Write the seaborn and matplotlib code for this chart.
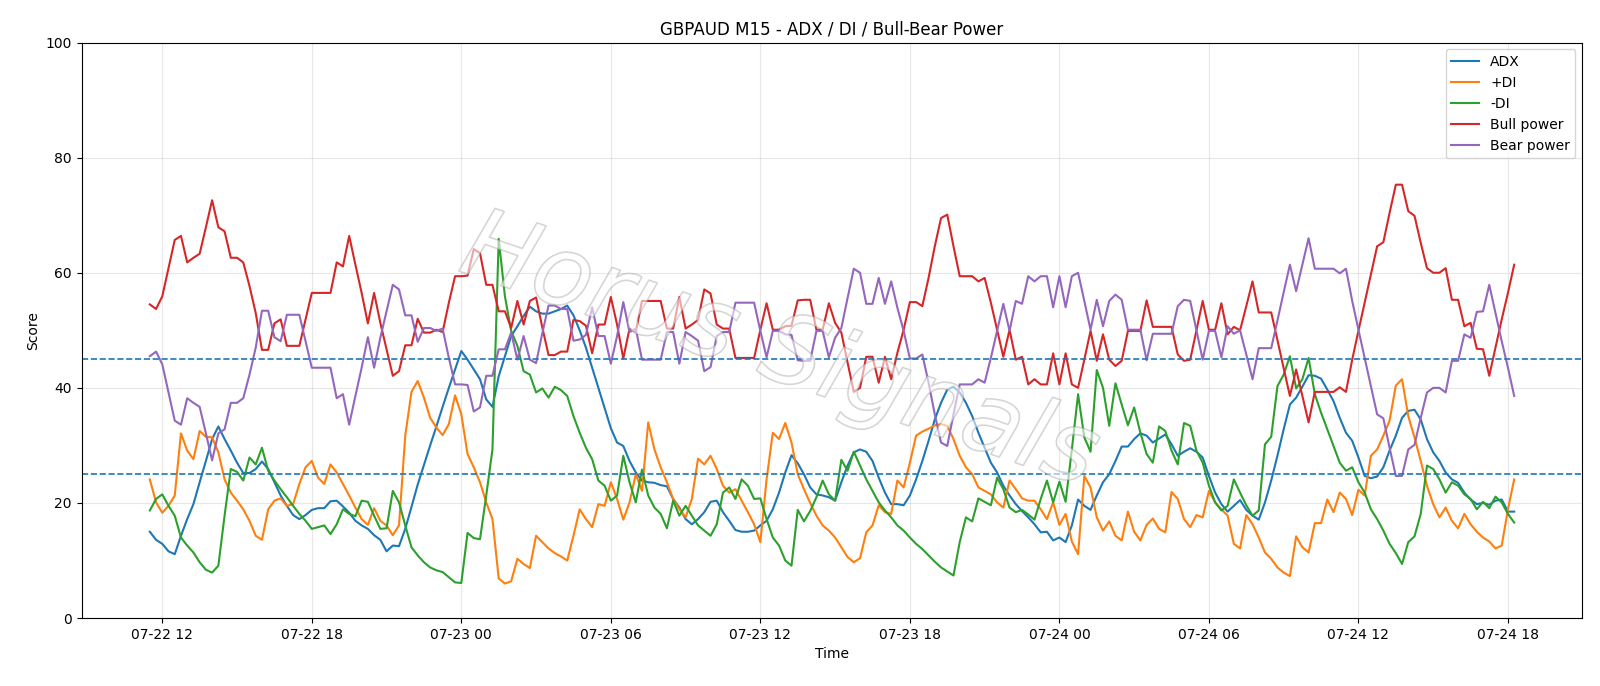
import pandas as pd
import matplotlib
matplotlib.use("Agg")
import matplotlib.pyplot as plt
import matplotlib.dates as mdates
import matplotlib.patheffects as pe
import seaborn as sns

# GBPAUD M15 bars, first bar 07-22 11:30
start = "2025-07-22 11:30"

adx = [15.0, 13.6, 12.9, 11.6, 11.1, 14.3, 17.2, 19.8, 23.6, 27.3,
       31.1, 33.3, 31.1, 29.1, 27.0, 25.2, 25.2, 25.9, 27.2, 25.9,
       23.6, 21.3, 19.5, 17.9, 17.2, 17.9, 18.8, 19.1, 19.1, 20.3,
       20.4, 19.4, 18.3, 16.9, 16.1, 15.5, 14.4, 13.6, 11.6, 12.6,
       12.5, 15.5, 19.3, 23.2, 26.6, 30.0, 33.3, 36.7, 40.0, 43.2,
       46.4, 44.9, 43.2, 41.5, 38.0, 36.7, 42.0, 45.5, 49.0, 50.7,
       52.5, 54.1, 53.3, 52.9, 52.9, 53.3, 53.7, 54.3, 52.6, 50.0,
       47.0, 43.5, 40.0, 36.5, 33.0, 30.5, 29.9, 27.3, 25.3, 23.9,
       23.6, 23.5, 23.1, 22.9, 20.7, 19.2, 17.2, 16.3, 17.2, 18.4,
       20.2, 20.4, 18.4, 16.9, 15.3, 15.0, 15.0, 15.2, 16.1, 16.9,
       18.9, 21.8, 25.3, 28.3, 26.9, 25.0, 22.7, 21.5, 21.3, 21.0,
       20.4, 23.6, 26.5, 28.8, 29.3, 28.9, 27.3, 24.4, 21.8, 19.8,
       19.8, 19.6, 21.3, 24.1, 27.3, 30.8, 34.5, 37.4, 39.7, 40.2,
       39.2, 37.4, 35.1, 32.2, 29.6, 27.0, 25.3, 23.0, 21.3, 19.8,
       18.6, 17.5, 16.3, 14.9, 15.0, 13.5, 14.0, 13.2, 16.1, 20.6,
       19.5, 18.8, 21.3, 23.6, 25.0, 27.3, 29.8, 29.8, 31.1, 32.1,
       31.7, 30.5, 31.2, 31.9, 30.2, 28.2, 28.9, 29.5, 28.9, 27.9,
       24.7, 21.8, 19.8, 18.5, 19.5, 20.5, 18.8, 17.8, 17.1, 20.1,
       23.9, 28.2, 32.8, 37.1, 38.3, 40.2, 42.2, 42.1, 41.6, 39.7,
       37.7, 34.8, 32.2, 30.8, 27.9, 24.7, 24.3, 24.6, 26.2, 29.1,
       31.7, 34.8, 36.0, 36.2, 34.5, 31.1, 28.8, 27.3, 25.3, 24.1,
       23.5, 21.8, 20.6, 19.8, 20.0, 19.7, 20.4, 20.6, 18.5, 18.5]

plus_di = [24.1, 20.1, 18.3, 19.5, 21.3, 32.1, 29.1, 27.6, 32.5, 31.5,
           31.4, 28.8, 24.1, 21.8, 20.4, 18.9, 16.9, 14.3, 13.6, 18.9,
           20.4, 20.8, 19.5, 19.8, 23.3, 26.2, 27.3, 24.4, 23.3, 26.7,
           25.3, 23.3, 21.3, 19.2, 17.2, 16.2, 19.1, 16.9, 16.1, 14.4,
           16.1, 31.7, 39.3, 41.2, 38.3, 34.8, 33.1, 31.8, 33.7, 38.7,
           35.4, 28.5, 26.2, 23.6, 20.1, 17.2, 6.9, 6.0, 6.4, 10.3,
           9.4, 8.7, 14.3, 13.2, 12.1, 11.3, 10.7, 10.0, 14.3, 18.9,
           17.2, 15.8, 19.8, 19.5, 23.6, 20.7, 17.1, 20.1, 25.0, 22.1,
           34.0, 29.3, 26.2, 23.6, 20.7, 18.9, 17.5, 20.7, 27.7, 26.7,
           28.2, 25.9, 23.0, 21.8, 22.4, 20.4, 18.4, 16.3, 13.2, 24.1,
           32.2, 31.1, 33.9, 30.5, 25.0, 22.4, 20.0, 17.8, 16.1, 15.2,
           14.0, 12.3, 10.6, 9.7, 10.4, 14.9, 16.1, 19.6, 18.4, 18.1,
           23.9, 22.7, 27.0, 31.7, 32.4, 32.9, 33.5, 33.7, 33.4, 31.1,
           28.2, 26.2, 25.0, 22.7, 22.1, 21.5, 20.1, 19.2, 23.9, 22.4,
           20.8, 20.4, 20.4, 18.9, 17.2, 20.1, 16.2, 18.1, 13.3, 11.1,
           24.7, 22.7, 17.5, 15.2, 16.8, 14.3, 13.5, 18.5, 15.0, 13.5,
           16.2, 17.3, 15.5, 14.9, 21.9, 20.7, 17.2, 15.8, 17.9, 17.5,
           22.1, 20.1, 18.9, 17.8, 12.9, 12.1, 17.9, 16.3, 14.0, 11.4,
           10.3, 8.8, 7.9, 7.3, 14.2, 12.3, 11.4, 16.5, 16.5, 20.6,
           18.4, 21.8, 20.7, 17.9, 22.3, 21.3, 28.2, 29.3, 31.7, 34.3,
           40.4, 41.5, 35.1, 31.4, 27.3, 23.0, 19.8, 17.5, 19.2, 16.9,
           15.6, 18.1, 16.3, 15.0, 14.0, 13.3, 12.1, 12.6, 18.9, 24.1]

minus_di = [18.7, 20.7, 21.5, 19.5, 17.8, 14.0, 12.6, 11.4, 9.7, 8.4,
            7.9, 9.1, 17.8, 25.9, 25.4, 23.9, 27.9, 26.7, 29.6, 25.6,
            23.9, 22.4, 21.0, 19.5, 18.1, 16.9, 15.5, 15.8, 16.1, 14.6,
            16.3, 18.9, 18.1, 17.7, 20.4, 20.2, 17.8, 15.5, 15.6, 22.1,
            20.1, 16.1, 12.3, 10.9, 9.7, 8.8, 8.3, 8.0, 7.1, 6.2,
            6.1, 14.8, 13.9, 13.7, 21.3, 29.3, 65.9, 55.9, 49.9, 47.3,
            42.9, 42.3, 39.2, 39.9, 38.3, 40.2, 39.6, 38.6, 35.1, 32.2,
            29.6, 27.6, 23.9, 23.0, 20.4, 21.3, 28.2, 23.6, 20.1, 25.8,
            21.3, 19.2, 18.1, 15.6, 20.4, 17.8, 19.5, 17.8, 16.1, 15.2,
            14.3, 16.3, 21.8, 22.7, 20.7, 24.1, 23.0, 20.7, 20.8, 17.2,
            14.0, 12.6, 10.0, 9.1, 18.8, 16.8, 18.6, 21.0, 23.9, 21.5,
            20.4, 27.5, 25.6, 28.9, 26.5, 24.1, 22.1, 20.1, 18.7, 17.5,
            16.1, 15.2, 14.0, 12.9, 12.0, 10.9, 9.8, 8.8, 8.1, 7.4,
            13.2, 17.5, 16.8, 20.8, 20.2, 19.6, 24.4, 22.4, 19.2, 18.4,
            18.8, 18.0, 17.1, 20.7, 23.9, 20.1, 23.7, 20.2, 29.3, 38.9,
            31.4, 28.9, 43.1, 40.0, 33.4, 40.8, 37.1, 33.5, 36.6, 32.2,
            28.5, 27.0, 33.3, 32.5, 29.1, 26.7, 33.9, 33.4, 29.1, 27.0,
            23.0, 20.1, 18.7, 19.5, 24.1, 21.8, 19.6, 17.8, 18.7, 30.2,
            31.5, 40.3, 42.3, 45.5, 39.9, 41.5, 45.2, 38.9, 35.7, 32.8,
            29.9, 27.0, 25.6, 26.2, 23.6, 21.8, 18.9, 17.2, 15.2, 12.9,
            11.3, 9.4, 13.2, 14.2, 18.1, 26.5, 25.9, 24.1, 21.8, 23.6,
            23.0, 21.5, 20.7, 18.9, 20.2, 19.1, 21.1, 20.1, 18.1, 16.6]

bull_power = [54.5, 53.7, 55.9, 60.8, 65.7, 66.4, 61.8, 62.6, 63.3, 67.9,
              72.6, 67.9, 67.2, 62.6, 62.6, 61.8, 57.7, 53.0, 46.6, 46.6,
              51.2, 51.9, 47.3, 47.3, 47.3, 51.9, 56.5, 56.5, 56.5, 56.5,
              61.8, 61.1, 66.4, 61.4, 56.5, 51.2, 56.5, 51.3, 46.7, 42.1,
              42.9, 47.4, 47.4, 52.0, 49.6, 49.6, 50.1, 49.7, 54.8, 59.4,
              59.4, 59.5, 64.1, 63.4, 57.9, 57.9, 53.3, 53.3, 50.4, 55.1,
              51.0, 55.1, 55.7, 50.5, 45.7, 45.7, 46.3, 46.3, 51.8, 51.6,
              50.8, 46.0, 51.0, 51.0, 55.8, 51.0, 45.1, 50.3, 49.7, 55.1,
              55.1, 55.1, 55.1, 50.3, 50.3, 55.8, 50.3, 51.0, 51.8, 57.1,
              56.4, 51.0, 50.3, 50.3, 45.2, 45.2, 45.2, 45.2, 50.1, 54.7,
              50.1, 50.1, 50.7, 50.8, 55.2, 55.3, 55.3, 50.1, 50.1, 54.7,
              51.3, 49.6, 44.4, 39.3, 40.0, 45.4, 45.4, 40.9, 45.4, 41.5,
              46.1, 50.1, 54.9, 54.9, 54.2, 59.1, 64.6, 69.5, 70.1, 64.6,
              59.4, 59.4, 59.4, 58.5, 59.1, 54.8, 50.1, 45.4, 50.1, 44.9,
              45.4, 40.6, 41.5, 40.6, 40.6, 46.0, 40.6, 46.0, 40.6, 40.0,
              44.9, 49.9, 44.7, 49.3, 44.9, 43.8, 44.7, 49.9, 49.9, 49.9,
              55.2, 50.6, 50.6, 50.6, 50.6, 45.8, 44.7, 44.9, 50.0, 55.1,
              50.1, 50.1, 54.7, 49.3, 50.6, 50.0, 54.2, 58.5, 53.1, 53.1,
              53.1, 48.3, 43.4, 38.6, 43.2, 38.6, 34.0, 39.3, 39.3, 39.3,
              39.3, 40.1, 39.3, 44.9, 49.9, 54.8, 59.7, 64.6, 65.3, 70.4,
              75.3, 75.3, 70.7, 69.9, 65.2, 60.8, 60.0, 60.0, 60.8, 55.3,
              55.3, 50.7, 51.3, 46.8, 46.7, 42.1, 47.0, 51.9, 56.5, 61.4]

bear_power = [45.5, 46.3, 44.1, 39.2, 34.3, 33.6, 38.2, 37.4, 36.7, 32.1,
              27.4, 32.1, 32.8, 37.4, 37.4, 38.2, 42.3, 47.0, 53.4, 53.4,
              48.8, 48.1, 52.7, 52.7, 52.7, 48.1, 43.5, 43.5, 43.5, 43.5,
              38.2, 38.9, 33.6, 38.6, 43.5, 48.8, 43.5, 48.7, 53.3, 57.9,
              57.1, 52.6, 52.6, 48.0, 50.4, 50.4, 49.9, 50.3, 45.2, 40.6,
              40.6, 40.5, 35.9, 36.6, 42.1, 42.1, 46.7, 46.7, 49.6, 44.9,
              49.0, 44.9, 44.3, 49.5, 54.3, 54.3, 53.7, 53.7, 48.2, 48.4,
              49.2, 54.0, 49.0, 49.0, 44.2, 49.0, 54.9, 49.7, 50.3, 44.9,
              44.9, 44.9, 44.9, 49.7, 49.7, 44.2, 49.7, 49.0, 48.2, 42.9,
              43.6, 49.0, 49.7, 49.7, 54.8, 54.8, 54.8, 54.8, 49.9, 45.3,
              49.9, 49.9, 49.3, 49.2, 44.8, 44.7, 44.7, 49.9, 49.9, 45.3,
              48.7, 50.4, 55.6, 60.7, 60.0, 54.6, 54.6, 59.1, 54.6, 58.5,
              53.9, 49.9, 45.1, 45.1, 45.8, 40.9, 35.4, 30.5, 29.9, 35.4,
              40.6, 40.6, 40.6, 41.5, 40.9, 45.2, 49.9, 54.6, 49.9, 55.1,
              54.6, 59.4, 58.5, 59.4, 59.4, 54.0, 59.4, 54.0, 59.4, 60.0,
              55.1, 50.1, 55.3, 50.7, 55.1, 56.2, 55.3, 50.1, 50.1, 50.1,
              44.8, 49.4, 49.4, 49.4, 49.4, 54.2, 55.3, 55.1, 50.0, 44.9,
              49.9, 49.9, 45.3, 50.7, 49.4, 50.0, 45.8, 41.5, 46.9, 46.9,
              46.9, 51.7, 56.6, 61.4, 56.8, 61.4, 66.0, 60.7, 60.7, 60.7,
              60.7, 59.9, 60.7, 55.1, 50.1, 45.2, 40.3, 35.4, 34.7, 29.6,
              24.7, 24.7, 29.3, 30.1, 34.8, 39.2, 40.0, 40.0, 39.2, 44.7,
              44.7, 49.3, 48.7, 53.2, 53.3, 57.9, 53.0, 48.1, 43.5, 38.6]

series_names = ["ADX", "+DI", "-DI", "Bull power", "Bear power"]
colors = ["#1f77b4", "#ff7f0e", "#2ca02c", "#d62728", "#9467bd"]

times = pd.date_range(start, periods=len(adx), freq="15min")
df = pd.DataFrame({"Time": times, "ADX": adx, "+DI": plus_di, "-DI": minus_di,
                   "Bull power": bull_power, "Bear power": bear_power})
long_df = df.melt(id_vars="Time", var_name="Series", value_name="Score")

fig, ax = plt.subplots(figsize=(16, 6.86), dpi=100)
fig.subplots_adjust(left=0.051, right=0.989, top=0.938, bottom=0.099)

sns.lineplot(data=long_df, x="Time", y="Score", hue="Series",
             hue_order=series_names, palette=colors, linewidth=1.5, ax=ax)

ax.axhline(45, color="#1f77b4", linestyle="--", linewidth=1.2)
ax.axhline(25, color="#1f77b4", linestyle="--", linewidth=1.2)

ax.set_ylim(0, 100)
ax.grid(True, alpha=0.3)
ax.xaxis.set_major_locator(mdates.HourLocator(byhour=[0, 6, 12, 18]))
ax.xaxis.set_major_formatter(mdates.DateFormatter("%m-%d %H"))
ax.set_title("GBPAUD M15 - ADX / DI / Bull-Bear Power")
ax.set_xlabel("Time")
ax.set_ylabel("Score")
sns.move_legend(ax, "upper right", title=None)

# watermark, thin hollow letters
ax.text(0.465, 0.46, "Horus Signals", transform=ax.transAxes, rotation=-19,
        fontsize=70, style="italic", fontweight="light", ha="center", va="center",
        color="white", alpha=0.25, zorder=5,
        path_effects=[pe.Stroke(linewidth=1.2, foreground="#999999", alpha=0.45),
                      pe.Normal()])

fig.savefig("out.png", dpi=100)
